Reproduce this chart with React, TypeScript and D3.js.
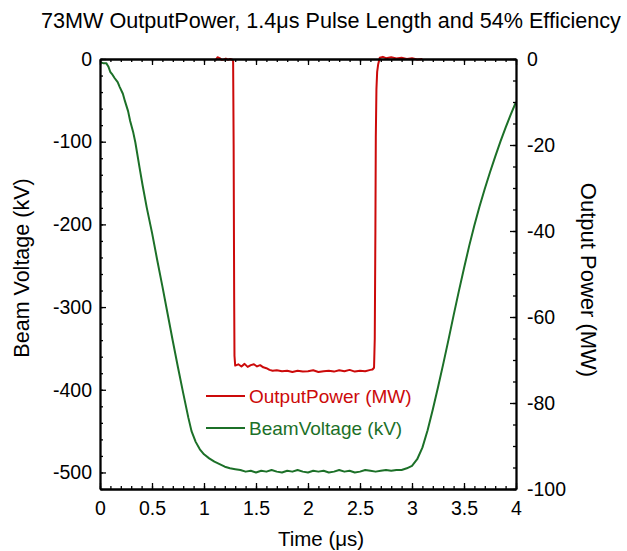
import React, { useEffect, useRef } from "react";
import * as d3 from "d3";

const W = 627;
const H = 551;
const FRAME = { left: 100, right: 516, top: 59, bottom: 489 };
const FONT = "'Liberation Sans', Arial, Helvetica, sans-serif";
const RED = "#cc0a0a";
const GREEN = "#1c7028";

const titleText = "73MW OutputPower, 1.4\u03bcs Pulse Length and 54% Efficiency";
const xTitle = "Time (\u03bcs)";
const yLeftTitle = "Beam Voltage (kV)";
const yRightTitle = "Output Power (MW)";
const legendLabels = ["OutputPower (MW)", "BeamVoltage (kV)"];

const timeTicks = [0, 0.5, 1, 1.5, 2, 2.5, 3, 3.5, 4];
const voltageTicks = [0, -100, -200, -300, -400, -500];
const powerTicks = [0, -20, -40, -60, -80, -100];

// Beam voltage (kV) vs time (us)
const beamTime = [
  0.0, 0.03, 0.06, 0.08, 0.1, 0.12, 0.14, 0.17, 0.19, 0.22, 0.24, 0.27, 0.29, 0.32, 0.34,
  0.38, 0.41, 0.45, 0.5, 0.55, 0.6, 0.65, 0.7, 0.75, 0.8, 0.85, 0.88, 0.92, 0.96, 1.0,
  1.05, 1.1, 1.15, 1.2, 1.25, 1.3, 1.35, 1.4, 1.45, 1.5, 1.55, 1.6, 1.65, 1.7, 1.75, 1.8,
  1.85, 1.9, 1.95, 2.0, 2.05, 2.1, 2.15, 2.2, 2.25, 2.3, 2.35, 2.4, 2.45, 2.5, 2.55, 2.6,
  2.65, 2.7, 2.75, 2.8, 2.85, 2.9, 2.95, 3.0, 3.05, 3.1, 3.15, 3.2, 3.25, 3.3, 3.35,
  3.4, 3.45, 3.5, 3.55, 3.6, 3.65, 3.7, 3.75, 3.8, 3.85, 3.9, 3.95, 4.0,
];
const beamVoltage = [
  -4, -5, -5, -9, -16, -19, -23, -28, -34, -42, -51, -63, -75, -89, -101,
  -131, -153, -180, -210, -243, -275, -308, -341, -373, -404, -434, -450, -463, -472, -478,
  -483, -487, -490, -493, -495, -496, -497, -499, -498, -500, -498, -499, -497, -499, -500, -498,
  -499, -497, -499, -500, -498, -499, -498, -500, -499, -497, -499, -498, -500, -499, -497, -498,
  -499, -498, -497, -498, -497, -497, -495, -492, -484, -470, -449, -424, -397, -369, -340,
  -310, -281, -253, -226, -201, -178, -157, -137, -118, -100, -83, -67, -52,
];

// Output power (MW) vs time (us)
const powerTime = [
  1.11, 1.13, 1.15, 1.17, 1.19, 1.21, 1.23, 1.25, 1.27, 1.28, 1.285, 1.29, 1.293, 1.3,
  1.33, 1.36, 1.39, 1.42, 1.45, 1.48, 1.51, 1.54, 1.57, 1.6, 1.63, 1.66, 1.7, 1.75, 1.8,
  1.85, 1.9, 1.95, 2.0, 2.05, 2.1, 2.15, 2.2, 2.25, 2.3, 2.35, 2.4, 2.45, 2.5, 2.55, 2.6,
  2.62, 2.635, 2.642, 2.648, 2.652, 2.658, 2.665, 2.675, 2.69, 2.72, 2.75, 2.8, 2.85, 2.9,
  2.95, 3.0, 3.05, 3.1,
];
const outputPower = [
  -0.3, 0.4, 0.2, -0.2, -0.1, 0.1, -0.2, 0.0, -0.1, -0.5, -20, -55, -69, -71.3,
  -71.0, -71.5, -70.9, -71.6, -71.2, -71.0, -71.5, -71.2, -71.7, -71.9, -72.3, -72.5, -72.4, -72.6, -72.5,
  -72.8, -72.5, -72.7, -72.6, -72.4, -72.8, -72.6, -72.5, -72.7, -72.4, -72.6, -72.3, -72.7, -72.5, -72.6, -72.3,
  -72.2, -71.8, -65, -40, -18, -7, -3, -1.2, 0.3, 0.5, 0.2, 0.4, 0.1, 0.3,
  0.0, 0.2, -0.1, 0.0,
];

export default function App() {
  const axesRef = useRef<SVGGElement>(null);

  const x = d3.scaleLinear().domain([0, 4]).range([FRAME.left, FRAME.right]);
  const yL = d3.scaleLinear().domain([-520, 0]).range([FRAME.bottom, FRAME.top]);
  const yR = d3.scaleLinear().domain([-100, 0]).range([FRAME.bottom, FRAME.top]);

  const beamLine = d3
    .line<number>()
    .x((_, i) => x(beamTime[i]))
    .y((d) => yL(d));
  const powerLine = d3
    .line<number>()
    .x((_, i) => x(powerTime[i]))
    .y((d) => yR(d));

  useEffect(() => {
    const g = d3.select(axesRef.current);
    g.selectAll("*").remove();

    const minorX = d3.range(0, 41).map((i) => i / 10);
    const minorVL = d3.range(0, 27).map((i) => -i * 20);
    const minorVR = d3.range(0, 21).map((i) => -i * 5);

    const style = (sel: any, labels: boolean) => {
      sel.select(".domain").attr("stroke", "#000").attr("stroke-width", 1.8);
      sel.selectAll(".tick line").attr("stroke", "#000").attr("stroke-width", 1.3);
      sel
        .selectAll(".tick text")
        .attr("fill", "#000")
        .style("font-family", FONT)
        .style("font-size", labels ? "19.5px" : "0px");
      sel.attr("font-family", null).attr("font-size", null);
    };

    // bottom
    const b1 = g.append("g").attr("transform", `translate(0,${FRAME.bottom})`)
      .call(d3.axisBottom(x).tickValues(minorX).tickSize(-3).tickSizeOuter(0).tickFormat(() => ""));
    style(b1, false);
    const b2 = g.append("g").attr("transform", `translate(0,${FRAME.bottom})`)
      .call(d3.axisBottom(x).tickValues(timeTicks).tickSize(-6).tickSizeOuter(0).tickPadding(12).tickFormat((d: any) => String(d)));
    style(b2, true);

    // top
    const t1 = g.append("g").attr("transform", `translate(0,${FRAME.top})`)
      .call(d3.axisTop(x).tickValues(minorX).tickSize(-3).tickSizeOuter(0).tickFormat(() => ""));
    style(t1, false);
    const t2 = g.append("g").attr("transform", `translate(0,${FRAME.top})`)
      .call(d3.axisTop(x).tickValues(timeTicks).tickSize(-6).tickSizeOuter(0).tickFormat(() => ""));
    style(t2, false);

    // left
    const l1 = g.append("g").attr("transform", `translate(${FRAME.left},0)`)
      .call(d3.axisLeft(yL).tickValues(minorVL).tickSize(-3).tickSizeOuter(0).tickFormat(() => ""));
    style(l1, false);
    const l2 = g.append("g").attr("transform", `translate(${FRAME.left},0)`)
      .call(d3.axisLeft(yL).tickValues(voltageTicks).tickSize(-6).tickSizeOuter(0).tickPadding(8).tickFormat((d: any) => String(d)));
    style(l2, true);

    // right
    const r1 = g.append("g").attr("transform", `translate(${FRAME.right},0)`)
      .call(d3.axisRight(yR).tickValues(minorVR).tickSize(-3).tickSizeOuter(0).tickFormat(() => ""));
    style(r1, false);
    const r2 = g.append("g").attr("transform", `translate(${FRAME.right},0)`)
      .call(d3.axisRight(yR).tickValues(powerTicks).tickSize(-6).tickSizeOuter(0).tickPadding(11).tickFormat((d: any) => String(d)));
    style(r2, true);
  }, []);

  const legendY = [396, 428];
  const legendColors = [RED, GREEN];

  return (
    <svg
      width={W}
      height={H}
      viewBox={`0 0 ${W} ${H}`}
      style={{ position: "absolute", left: 0, top: 0, background: "#fff" }}
    >
      <rect x={0} y={0} width={W} height={H} fill="#fff" />
      <text x={331} y={20} textAnchor="middle" dominantBaseline="central" fontFamily={FONT} fontSize={21.6} fill="#000">
        {titleText}
      </text>

      <path d={beamLine(beamVoltage) || ""} fill="none" stroke={GREEN} strokeWidth={2} strokeLinejoin="round" />
      <path d={powerLine(outputPower) || ""} fill="none" stroke={RED} strokeWidth={2} strokeLinejoin="round" />

      <g ref={axesRef} />

      <text x={321} y={538} textAnchor="middle" dominantBaseline="central" fontFamily={FONT} fontSize={20.5} fill="#000">
        {xTitle}
      </text>
      <text
        transform={`translate(22,268) rotate(-90)`}
        textAnchor="middle"
        dominantBaseline="central"
        fontFamily={FONT}
        fontSize={21.5}
        fill="#000"
      >
        {yLeftTitle}
      </text>
      <text
        transform={`translate(588,280) rotate(90)`}
        textAnchor="middle"
        dominantBaseline="central"
        fontFamily={FONT}
        fontSize={22}
        fill="#000"
      >
        {yRightTitle}
      </text>

      {legendLabels.map((label, i) => (
        <g key={label}>
          <line x1={206} x2={245} y1={legendY[i]} y2={legendY[i]} stroke={legendColors[i]} strokeWidth={2} />
          <text x={249} y={legendY[i]} dominantBaseline="central" fontFamily={FONT} fontSize={19} fill={legendColors[i]}>
            {label}
          </text>
        </g>
      ))}
    </svg>
  );
}
